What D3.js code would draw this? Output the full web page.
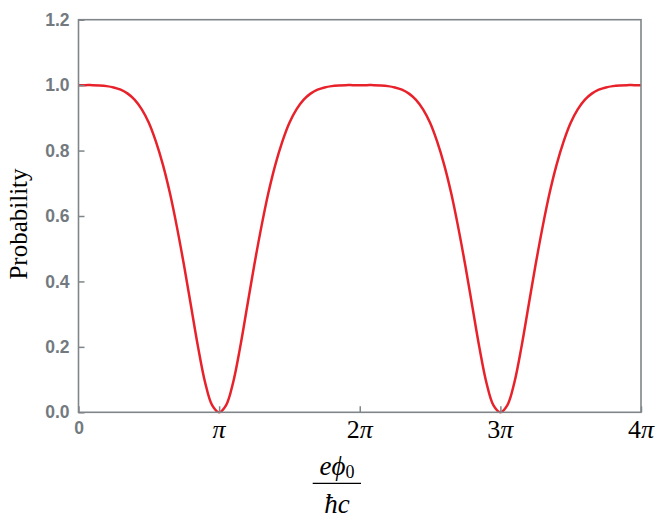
<!DOCTYPE html>
<html>
<head>
<meta charset="utf-8">
<script src="https://cdn.jsdelivr.net/npm/d3@7"></script>
<style>
  html, body { margin: 0; padding: 0; background: #fff; }
  svg { display: block; }
</style>
</head>
<body>
<svg id="chart" width="664" height="529"></svg>
<script>
// x positions in units of pi
const phaseOverPi = [
  0.00,0.05,0.10,0.15,0.20,0.25,0.30,0.35,0.40,0.45,0.50,0.55,0.60,0.65,0.70,0.75,0.80,0.85,0.90,0.95,
  1.00,1.05,1.10,1.15,1.20,1.25,1.30,1.35,1.40,1.45,1.50,1.55,1.60,1.65,1.70,1.75,1.80,1.85,1.90,1.95,
  2.00,2.05,2.10,2.15,2.20,2.25,2.30,2.35,2.40,2.45,2.50,2.55,2.60,2.65,2.70,2.75,2.80,2.85,2.90,2.95,
  3.00,3.05,3.10,3.15,3.20,3.25,3.30,3.35,3.40,3.45,3.50,3.55,3.60,3.65,3.70,3.75,3.80,3.85,3.90,3.95,
  4.00
];
// probability
const probability = [
  1.000,1.000,1.000,0.999,0.997,0.993,0.986,0.974,0.955,0.926,0.885,0.828,0.757,0.670,0.566,0.450,0.325,0.200,0.092,0.022,
  0.000,0.022,0.092,0.200,0.325,0.450,0.566,0.670,0.757,0.828,0.885,0.926,0.955,0.974,0.986,0.993,0.997,0.999,1.000,1.000,
  1.000,1.000,1.000,0.999,0.997,0.993,0.986,0.974,0.955,0.926,0.885,0.828,0.757,0.670,0.566,0.450,0.325,0.200,0.092,0.022,
  0.000,0.022,0.092,0.200,0.325,0.450,0.566,0.670,0.757,0.828,0.885,0.926,0.955,0.974,0.986,0.993,0.997,0.999,1.000,1.000,
  1.000
];
const xTickValues = [0, 1, 2, 3, 4];
const xTickLabels = ["0", "π", "2π", "3π", "4π"];
const yTickValues = [0.0, 0.2, 0.4, 0.6, 0.8, 1.0, 1.2];
const yLabel = "Probability";

const svg = d3.select("#chart");
const L = 78.5, R = 641, T = 19.7, B = 412.3;
const axisColor = "#7f8589";
const tickTextColor = "#737a7f";

const x = d3.scaleLinear().domain([0, 4]).range([L, R]);
const y = d3.scaleLinear().domain([0, 1.2]).range([B, T]);

const data = phaseOverPi.map((p, i) => ({ p, v: probability[i] }));

// curve
svg.append("path")
  .datum(data)
  .attr("fill", "none")
  .attr("stroke", "#e8222b")
  .attr("stroke-width", 2.5)
  .attr("stroke-linejoin", "round")
  .attr("d", d3.line().x(d => x(d.p)).y(d => y(d.v)).curve(d3.curveCatmullRom.alpha(0.5)));

// y axis ticks (inward)
const yAxis = d3.axisLeft(y).tickValues(yTickValues).tickSize(-6).tickPadding(9)
  .tickFormat(d3.format(".1f"));
const gy = svg.append("g").attr("transform", `translate(${L},0)`).call(yAxis);
gy.select(".domain").remove();
gy.selectAll(".tick line").attr("stroke", axisColor).attr("stroke-width", 1.5);
gy.selectAll(".tick text")
  .attr("fill", tickTextColor)
  .style("font-family", "'Liberation Sans', Arial, sans-serif")
  .style("font-weight", "bold")
  .style("font-size", "17.5px");

// x axis ticks (inward)
const xAxis = d3.axisBottom(x).tickValues(xTickValues).tickSize(-6).tickFormat("");
const gx = svg.append("g").attr("transform", `translate(0,${B})`).call(xAxis);
gx.select(".domain").remove();
gx.selectAll(".tick line").attr("stroke", axisColor).attr("stroke-width", 1.5);

// x tick labels
xTickValues.forEach((v, i) => {
  const lab = xTickLabels[i];
  if (lab === "0") {
    svg.append("text")
      .attr("x", x(v) + 0.5).attr("y", 434)
      .attr("text-anchor", "middle")
      .attr("fill", tickTextColor)
      .style("font-family", "'Liberation Sans', Arial, sans-serif")
      .style("font-weight", "bold")
      .style("font-size", "17.5px")
      .text(lab);
  } else {
    const t = svg.append("text")
      .attr("x", x(v)).attr("y", 437.5)
      .attr("text-anchor", "middle")
      .attr("fill", "#000")
      .style("font-family", "'Liberation Serif', 'DejaVu Serif', serif")
      .style("font-size", "26px");
    const num = lab.replace("π", "");
    if (num) t.append("tspan").text(num);
    t.append("tspan").style("font-style", "italic").text("π");
  }
});

// frame
svg.append("rect")
  .attr("x", L).attr("y", T).attr("width", R - L).attr("height", B - T)
  .attr("fill", "none").attr("stroke", axisColor).attr("stroke-width", 1.6);

// y label
svg.append("text")
  .attr("transform", "translate(26.5,224) rotate(-90)")
  .attr("text-anchor", "middle")
  .attr("fill", "#000")
  .style("font-family", "'Liberation Serif', 'DejaVu Serif', serif")
  .style("font-size", "25px")
  .text(yLabel);

// x label: fraction e phi_0 / hbar c
const cx = 337;
const numT = svg.append("text")
  .attr("x", cx).attr("y", 475)
  .attr("text-anchor", "middle")
  .attr("fill", "#000")
  .style("font-family", "'Liberation Serif', 'DejaVu Serif', serif")
  .style("font-size", "27px");
numT.append("tspan").style("font-style", "italic").text("eϕ");
numT.append("tspan").attr("dy", 3).style("font-size", "18px").text("0");

svg.append("line")
  .attr("x1", 312.7).attr("x2", 361).attr("y1", 483.3).attr("y2", 483.3)
  .attr("stroke", "#000").attr("stroke-width", 1.2);

svg.append("text")
  .attr("x", cx).attr("y", 512.7)
  .attr("text-anchor", "middle")
  .attr("fill", "#000")
  .style("font-family", "'Liberation Serif', 'DejaVu Serif', serif")
  .style("font-size", "27px")
  .style("font-style", "italic")
  .text("ħc");
</script>
</body>
</html>
